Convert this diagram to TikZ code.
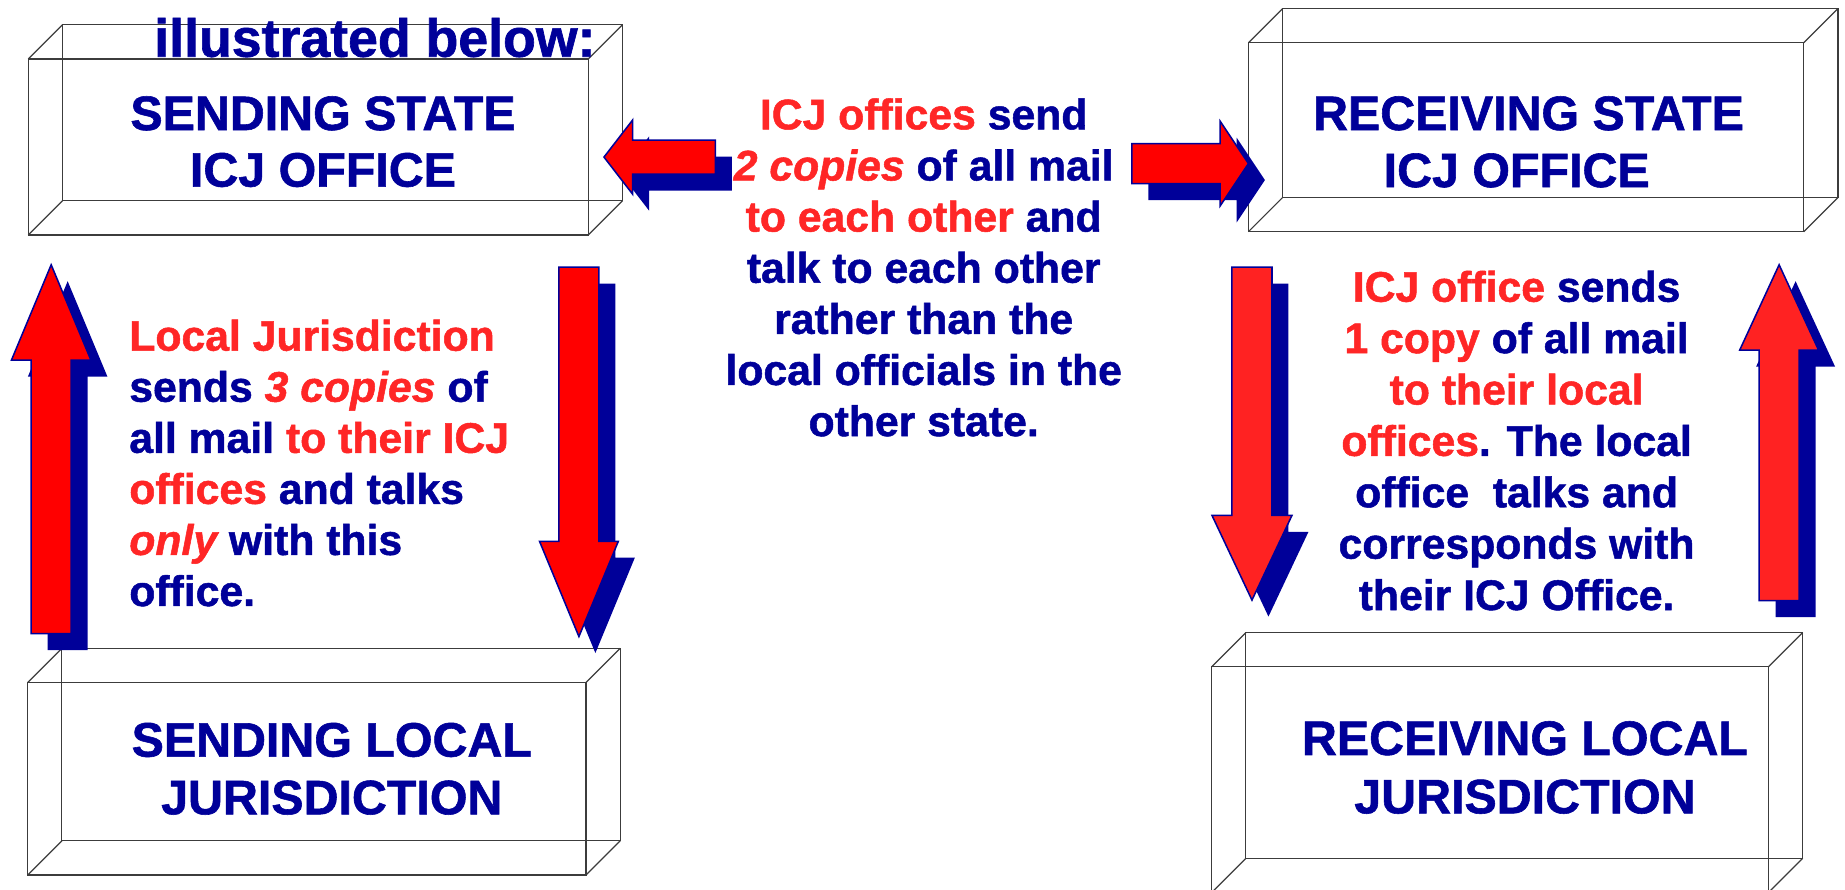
\documentclass[tikz,border=0pt]{standalone}
\usepackage{fontspec}
\setmainfont{Liberation Sans}[BoldFeatures={FakeBold=1.2},BoldItalicFeatures={FakeBold=1.2}]
\usetikzlibrary{calc}
\definecolor{navy}{RGB}{0,0,153}
\definecolor{txtred}{RGB}{255,38,38}
\definecolor{arrred}{RGB}{255,0,0}
\definecolor{arrredb}{RGB}{255,34,34}
\definecolor{edgegray}{RGB}{60,60,60}

\newcommand\Crow[1]{\hbox to 500pt{\hfil#1\hfil}}
\newcommand\Lrow[1]{\hbox{#1}}
\newcommand\R[1]{\textcolor{txtred}{#1}}
\newcommand\RI[1]{\textcolor{txtred}{\itshape #1}}
\newcommand\Blk[2]{\vtop{\baselineskip=#1\lineskiplimit=-100pt\lineskip=0pt #2}}

% wire-frame box: name, front face x1,y1,x2,y2
\newcommand\cuboid[5]{%
  \coordinate (#1-nw) at (#2,#3);
  \coordinate (#1-se) at (#4,#5);
  \coordinate (#1-ne) at (#4,#3);
  \coordinate (#1-sw) at (#2,#5);
  \draw[boxedge] (#1-nw) rectangle (#1-se);
  \draw[boxedge] ($(#1-nw)+(29,-29)$) rectangle ($(#1-se)+(29,-29)$);
  \foreach \c in {nw,ne,sw,se} \draw[boxedge] (#1-\c) -- ++(29,-29);
}

% block arrow with shadow: name, half shaft, half head, head length, fill
\newcommand\blockarrow[5]{%
  \coordinate (#1-h) at ($(#1-p)!#4pt!(#1-t)$);
  \fill[navy, transform canvas={xshift=14pt,yshift=-14pt}]
    ($(#1-t)!#2pt!90:(#1-p)$) -- ($(#1-h)!#2pt!90:(#1-p)$) -- ($(#1-h)!#3pt!90:(#1-p)$) -- (#1-p)
    -- ($(#1-h)!#3pt!-90:(#1-p)$) -- ($(#1-h)!#2pt!-90:(#1-p)$) -- ($(#1-t)!#2pt!-90:(#1-p)$) -- cycle;
  \filldraw[fill=#5, draw=navy, line width=1.3pt, line join=miter]
    ($(#1-t)!#2pt!90:(#1-p)$) -- ($(#1-h)!#2pt!90:(#1-p)$) -- ($(#1-h)!#3pt!90:(#1-p)$) -- (#1-p)
    -- ($(#1-h)!#3pt!-90:(#1-p)$) -- ($(#1-h)!#2pt!-90:(#1-p)$) -- ($(#1-t)!#2pt!-90:(#1-p)$) -- cycle;
}

\begin{document}
\begin{tikzpicture}[x=1pt,y=-1pt,
  boxedge/.style={draw=edgegray, line width=1pt},
  title/.style={font=\bfseries\fontsize{41.1}{48.3}\selectfont, text=navy, inner sep=0pt, outer sep=0pt, anchor=base},
  body/.style={font=\bfseries\fontsize{36.3}{43.5}\selectfont, text=navy, inner sep=0pt, outer sep=0pt}]
\useasboundingbox (0,0) rectangle (1568,756);

% boxes
\cuboid{ssi}{24}{50.1}{500}{199.7}
\cuboid{rsi}{1061}{36.3}{1533}{196.9}
\cuboid{slj}{23.6}{580}{498}{743.6}
\cuboid{rlj}{1029.8}{566.6}{1503}{758.5}

% arrows
\coordinate (lu-t) at (43.5,538.5); \coordinate (lu-p) at (43.5,225);
\blockarrow{lu}{17}{33.75}{81}{arrred}
\coordinate (ld-t) at (492,227); \coordinate (ld-p) at (492,541);
\blockarrow{ld}{17}{33.5}{81}{arrred}
\coordinate (rd-t) at (1064,227); \coordinate (rd-p) at (1064,510);
\blockarrow{rd}{17}{34}{72}{arrredb}
\coordinate (ru-t) at (1512,510.5); \coordinate (ru-p) at (1512,225);
\blockarrow{ru}{17}{33.5}{72.5}{arrredb}
\coordinate (hl-t) at (608,133.5); \coordinate (hl-p) at (513.3,133.5);
\blockarrow{hl}{14.5}{31.6}{24.4}{arrred}
\coordinate (hr-t) at (962,139); \coordinate (hr-p) at (1061,139);
\blockarrow{hr}{17}{36}{24}{arrred}

% titles
\node[anchor=base west, font=\bfseries\fontsize{45.6}{50}\selectfont, text=navy, inner sep=0pt] (ill) at (130.9,48.2) {illustrated below:};
\node[title] (tssi) at (274.5,110.5) {\Blk{48.1pt}{\Crow{SENDING STATE}\Crow{ICJ OFFICE}}};
\node[title] (trsi) at (1299,110.5) {\Blk{48.5pt}{\Crow{RECEIVING STATE}\Crow{ICJ OFFICE\kern20pt}}};
\node[title] (tslj) at (282,643) {\Blk{49pt}{\Crow{SENDING LOCAL}\Crow{JURISDICTION}}};
\node[title] (trlj) at (1296,641.6) {\Blk{49.6pt}{\Crow{RECEIVING LOCAL}\Crow{JURISDICTION}}};

% explanatory texts
\node[body, anchor=base] (ctr) at (785,109.9) {\Blk{43.45pt}{%
\Crow{\R{ICJ offices} send}
\Crow{\RI{2 copies} of all mail}
\Crow{\R{to each other} and}
\Crow{talk to each other}
\Crow{rather than the}
\Crow{local officials in the}
\Crow{other state.}}};

\node[body, anchor=base west] (lft) at (109.9,298) {\Blk{43.4pt}{%
\Lrow{\R{Local Jurisdiction}}
\Lrow{sends \RI{3 copies} of}
\Lrow{all mail \R{to their ICJ}}
\Lrow{\R{offices} and talks}
\Lrow{\RI{only} with this}
\Lrow{office.}}};

\node[body, anchor=base] (rgt) at (1288.9,256.4) {\Blk{43.67pt}{%
\Crow{\R{ICJ office} sends}
\Crow{\R{1 copy} of all mail}
\Crow{\R{to their local}}
\Crow{\R{offices}. The local}
\Crow{office\ \ talks and}
\Crow{corresponds with}
\Crow{their ICJ Office.}}};
\end{tikzpicture}
\end{document}
